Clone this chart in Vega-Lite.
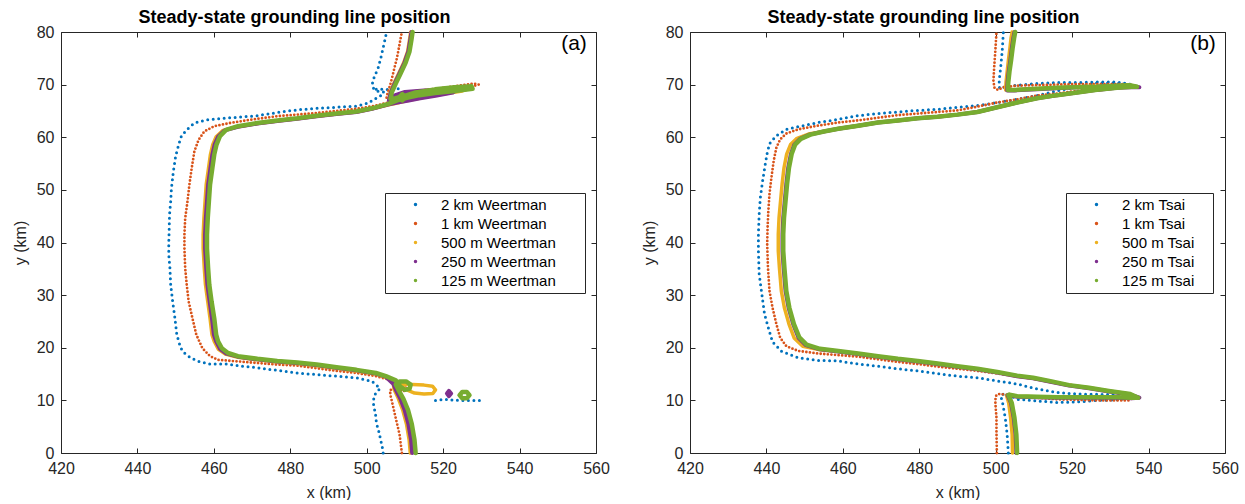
{
"$schema":"https://vega.github.io/schema/vega-lite/v6.json",
"background":"white",
"padding":{"left":12,"top":9,"right":0,"bottom":0},
"spacing":31,
"datasets":{
"a":[
{"s":"2 km","x":504.3,"y":0},{"s":"2 km","x":504.1,"y":1},{"s":"2 km","x":503.8,"y":2},{"s":"2 km","x":503.5,"y":3},{"s":"2 km","x":503.2,"y":4},{"s":"2 km","x":502.8,"y":5},{"s":"2 km","x":502.5,"y":6},{"s":"2 km","x":502.3,"y":7.4},{"s":"2 km","x":501.8,"y":9.1},{"s":"2 km","x":501.8,"y":10.1},{"s":"2 km","x":502,"y":11},{"s":"2 km","x":503.5,"y":12.3},{"s":"2 km","x":501.4,"y":13.6},{"s":"2 km","x":497.3,"y":14.3},{"s":"2 km","x":492.1,"y":14.6},{"s":"2 km","x":486.9,"y":14.9},{"s":"2 km","x":481.8,"y":15.2},{"s":"2 km","x":476.6,"y":15.7},{"s":"2 km","x":471.4,"y":16.2},{"s":"2 km","x":467.3,"y":16.5},{"s":"2 km","x":463.2,"y":16.9},{"s":"2 km","x":459,"y":16.9},{"s":"2 km","x":456,"y":17.4},{"s":"2 km","x":453.9,"y":18.1},{"s":"2 km","x":452.3,"y":19},{"s":"2 km","x":451.3,"y":20},{"s":"2 km","x":450.3,"y":22.5},{"s":"2 km","x":449.8,"y":25.7},{"s":"2 km","x":449.2,"y":28.9},{"s":"2 km","x":448.7,"y":32},{"s":"2 km","x":448.5,"y":35.2},{"s":"2 km","x":448.2,"y":37.7},{"s":"2 km","x":448.2,"y":40},{"s":"2 km","x":448.3,"y":42.2},{"s":"2 km","x":448.4,"y":45.3},{"s":"2 km","x":448.7,"y":47.8},{"s":"2 km","x":448.9,"y":50.3},{"s":"2 km","x":449.4,"y":53.5},{"s":"2 km","x":450,"y":56.4},{"s":"2 km","x":450.8,"y":58.6},{"s":"2 km","x":451.5,"y":60.2},{"s":"2 km","x":452.9,"y":61.4},{"s":"2 km","x":454.9,"y":62.7},{"s":"2 km","x":458,"y":63.3},{"s":"2 km","x":462.1,"y":63.6},{"s":"2 km","x":466.3,"y":63.8},{"s":"2 km","x":471.4,"y":64.1},{"s":"2 km","x":476.6,"y":64.7},{"s":"2 km","x":481.8,"y":65.2},{"s":"2 km","x":486.9,"y":65.5},{"s":"2 km","x":492.1,"y":65.7},{"s":"2 km","x":497.3,"y":65.9},{"s":"2 km","x":500.4,"y":66.5},{"s":"2 km","x":501.9,"y":67.2},{"s":"2 km","x":503.5,"y":67.8},{"s":"2 km","x":504.5,"y":68.6},{"s":"2 km","x":503,"y":68.7},{"s":"2 km","x":501.8,"y":69.3},{"s":"2 km","x":501.4,"y":70},{"s":"2 km","x":501.9,"y":71.3},{"s":"2 km","x":503,"y":73.2},{"s":"2 km","x":503.7,"y":75.1},{"s":"2 km","x":504.3,"y":77},{"s":"2 km","x":504.7,"y":78.3},{"s":"2 km","x":505.2,"y":80},
{"s":"2 km","g":1,"x":502.5,"y":69.1},{"s":"2 km","g":1,"x":504.5,"y":69.1},{"s":"2 km","g":1,"x":506.5,"y":69},{"s":"2 km","g":1,"x":508.3,"y":69.2},
{"s":"2 km","g":2,"x":518,"y":10},{"s":"2 km","g":2,"x":520,"y":10.2},{"s":"2 km","g":2,"x":522,"y":10.1},{"s":"2 km","g":2,"x":524,"y":10},{"s":"2 km","g":2,"x":526,"y":10},{"s":"2 km","g":2,"x":528,"y":10},{"s":"2 km","g":2,"x":530,"y":10},
{"s":"1 km","x":509.2,"y":0},{"s":"1 km","x":508.6,"y":3.5},{"s":"1 km","x":507.6,"y":6.6},{"s":"1 km","x":506.6,"y":9.8},{"s":"1 km","x":506.2,"y":11},{"s":"1 km","x":506.1,"y":11.9},{"s":"1 km","x":507,"y":12.3},{"s":"1 km","x":508.6,"y":12},{"s":"1 km","x":509.7,"y":11.7},{"s":"1 km","x":510.2,"y":12.4},{"s":"1 km","x":509,"y":13.2},{"s":"1 km","x":507.6,"y":13.6},{"s":"1 km","x":505,"y":14.1},{"s":"1 km","x":502.4,"y":14.6},{"s":"1 km","x":497.3,"y":15.2},{"s":"1 km","x":492.1,"y":15.6},{"s":"1 km","x":486.9,"y":16.1},{"s":"1 km","x":481.8,"y":16.6},{"s":"1 km","x":476.6,"y":16.8},{"s":"1 km","x":471.4,"y":17.1},{"s":"1 km","x":466.3,"y":17.4},{"s":"1 km","x":461.1,"y":17.7},{"s":"1 km","x":459,"y":18.4},{"s":"1 km","x":457,"y":19.9},{"s":"1 km","x":455.4,"y":22.5},{"s":"1 km","x":454.4,"y":25.6},{"s":"1 km","x":453.4,"y":28.8},{"s":"1 km","x":452.9,"y":32},{"s":"1 km","x":452.5,"y":35.1},{"s":"1 km","x":452.3,"y":38.9},{"s":"1 km","x":452.3,"y":41.5},{"s":"1 km","x":452.5,"y":44.6},{"s":"1 km","x":453.1,"y":47.8},{"s":"1 km","x":453.6,"y":51},{"s":"1 km","x":454.2,"y":54.1},{"s":"1 km","x":454.9,"y":57.3},{"s":"1 km","x":456,"y":59.5},{"s":"1 km","x":457.5,"y":61.1},{"s":"1 km","x":460.1,"y":62.1},{"s":"1 km","x":464.2,"y":62.7},{"s":"1 km","x":469.4,"y":63.3},{"s":"1 km","x":476.6,"y":64},{"s":"1 km","x":481.8,"y":64.3},{"s":"1 km","x":486.9,"y":64.6},{"s":"1 km","x":492.1,"y":65},{"s":"1 km","x":497.3,"y":65.4},{"s":"1 km","x":502.4,"y":66},{"s":"1 km","x":506.6,"y":66.8},{"s":"1 km","x":512.8,"y":67.8},{"s":"1 km","x":517.9,"y":68.4},{"s":"1 km","x":523.1,"y":69},{"s":"1 km","x":527.7,"y":69.7},{"s":"1 km","x":529.3,"y":70},{"s":"1 km","x":528,"y":70.2},{"s":"1 km","x":524,"y":69.8},{"s":"1 km","x":519,"y":69.3},{"s":"1 km","x":514,"y":68.8},{"s":"1 km","x":509,"y":68.3},{"s":"1 km","x":506.4,"y":67.8},{"s":"1 km","x":505.2,"y":67.5},{"s":"1 km","x":505.5,"y":68.5},{"s":"1 km","x":506.1,"y":69.8},{"s":"1 km","x":506.7,"y":71.5},{"s":"1 km","x":507.3,"y":73.3},{"s":"1 km","x":507.9,"y":75},{"s":"1 km","x":508.4,"y":76.9},{"s":"1 km","x":508.8,"y":78.5},{"s":"1 km","x":509.2,"y":80},
{"s":"500 m","x":511.4,"y":0},{"s":"500 m","x":511.1,"y":2.5},{"s":"500 m","x":510.4,"y":5.5},{"s":"500 m","x":509.4,"y":8.2},{"s":"500 m","x":508.3,"y":10.3},{"s":"500 m","x":507.2,"y":12},{"s":"500 m","x":507,"y":12.9},{"s":"500 m","x":509,"y":13.1},{"s":"500 m","x":512,"y":13},{"s":"500 m","x":515,"y":12.9},{"s":"500 m","x":517.2,"y":12.7},{"s":"500 m","x":518,"y":12},{"s":"500 m","x":517.3,"y":11.3},{"s":"500 m","x":515,"y":11.2},{"s":"500 m","x":512.5,"y":11.4},{"s":"500 m","x":510.5,"y":12},{"s":"500 m","x":508.5,"y":13},{"s":"500 m","x":506.5,"y":14},{"s":"500 m","x":505,"y":14.4},{"s":"500 m","x":502.4,"y":15},{"s":"500 m","x":497.3,"y":15.6},{"s":"500 m","x":492.1,"y":16.1},{"s":"500 m","x":486.9,"y":16.6},{"s":"500 m","x":481.8,"y":17},{"s":"500 m","x":476.6,"y":17.3},{"s":"500 m","x":471.4,"y":17.7},{"s":"500 m","x":466.3,"y":18.2},{"s":"500 m","x":463,"y":18.8},{"s":"500 m","x":461.2,"y":19.7},{"s":"500 m","x":460.1,"y":21.2},{"s":"500 m","x":459.5,"y":22.5},{"s":"500 m","x":459,"y":25.6},{"s":"500 m","x":458.4,"y":28.8},{"s":"500 m","x":457.8,"y":32},{"s":"500 m","x":457.5,"y":35.1},{"s":"500 m","x":457.2,"y":38.9},{"s":"500 m","x":457.2,"y":41.5},{"s":"500 m","x":457.4,"y":44.6},{"s":"500 m","x":457.7,"y":47.8},{"s":"500 m","x":458,"y":51},{"s":"500 m","x":458.6,"y":54.1},{"s":"500 m","x":459.1,"y":56.7},{"s":"500 m","x":459.7,"y":58.6},{"s":"500 m","x":460.6,"y":60.1},{"s":"500 m","x":462.4,"y":61.3},{"s":"500 m","x":466.3,"y":62},{"s":"500 m","x":471.4,"y":62.6},{"s":"500 m","x":476.6,"y":63.1},{"s":"500 m","x":481.8,"y":63.5},{"s":"500 m","x":486.9,"y":64},{"s":"500 m","x":492.1,"y":64.4},{"s":"500 m","x":497.3,"y":64.8},{"s":"500 m","x":501.4,"y":65.4},{"s":"500 m","x":505.5,"y":66.1},{"s":"500 m","x":508,"y":66.5},{"s":"500 m","x":511,"y":67},{"s":"500 m","x":515,"y":67.6},{"s":"500 m","x":520,"y":68.2},{"s":"500 m","x":525,"y":68.8},{"s":"500 m","x":527,"y":69.3},{"s":"500 m","x":524,"y":69.4},{"s":"500 m","x":519,"y":69.1},{"s":"500 m","x":514,"y":68.8},{"s":"500 m","x":510,"y":68.4},{"s":"500 m","x":507,"y":67.6},{"s":"500 m","x":505.9,"y":67},{"s":"500 m","x":506.1,"y":68.5},{"s":"500 m","x":507.1,"y":70.2},{"s":"500 m","x":508.3,"y":72},{"s":"500 m","x":509.7,"y":74.2},{"s":"500 m","x":510.7,"y":76.3},{"s":"500 m","x":511.2,"y":78.5},{"s":"500 m","x":511.5,"y":80},
{"s":"250 m","x":511.9,"y":0},{"s":"250 m","x":511.6,"y":2.5},{"s":"250 m","x":510.9,"y":5.5},{"s":"250 m","x":509.9,"y":8.2},{"s":"250 m","x":508.8,"y":10.3},{"s":"250 m","x":507.6,"y":12},{"s":"250 m","x":507,"y":13.1},{"s":"250 m","x":505,"y":14.5},{"s":"250 m","x":502.4,"y":15.1},{"s":"250 m","x":497.3,"y":15.7},{"s":"250 m","x":492.1,"y":16.2},{"s":"250 m","x":486.9,"y":16.7},{"s":"250 m","x":481.8,"y":17.1},{"s":"250 m","x":476.6,"y":17.4},{"s":"250 m","x":471.4,"y":17.8},{"s":"250 m","x":466.3,"y":18.3},{"s":"250 m","x":463.3,"y":18.9},{"s":"250 m","x":461.6,"y":19.8},{"s":"250 m","x":460.6,"y":21.2},{"s":"250 m","x":460,"y":22.5},{"s":"250 m","x":459.5,"y":25.6},{"s":"250 m","x":458.9,"y":28.8},{"s":"250 m","x":458.3,"y":32},{"s":"250 m","x":458,"y":35.1},{"s":"250 m","x":457.7,"y":38.9},{"s":"250 m","x":457.7,"y":41.5},{"s":"250 m","x":457.9,"y":44.6},{"s":"250 m","x":458.2,"y":47.8},{"s":"250 m","x":458.5,"y":51},{"s":"250 m","x":459.1,"y":54.1},{"s":"250 m","x":459.6,"y":56.7},{"s":"250 m","x":460.2,"y":58.6},{"s":"250 m","x":461.1,"y":60.1},{"s":"250 m","x":462.8,"y":61.3},{"s":"250 m","x":466.3,"y":62},{"s":"250 m","x":471.4,"y":62.6},{"s":"250 m","x":476.6,"y":63.1},{"s":"250 m","x":481.8,"y":63.5},{"s":"250 m","x":486.9,"y":64},{"s":"250 m","x":492.1,"y":64.4},{"s":"250 m","x":497.3,"y":64.8},{"s":"250 m","x":501.4,"y":65.4},{"s":"250 m","x":505.5,"y":66.2},{"s":"250 m","x":508,"y":66.6},{"s":"250 m","x":511,"y":67},{"s":"250 m","x":514,"y":67.4},{"s":"250 m","x":518,"y":67.9},{"s":"250 m","x":522.5,"y":68.5},{"s":"250 m","x":523.5,"y":69},{"s":"250 m","x":520,"y":69},{"s":"250 m","x":515,"y":68.9},{"s":"250 m","x":510,"y":68.6},{"s":"250 m","x":507.5,"y":68},{"s":"250 m","x":505.8,"y":67},{"s":"250 m","x":506.3,"y":68.5},{"s":"250 m","x":507.3,"y":70.2},{"s":"250 m","x":508.5,"y":72},{"s":"250 m","x":509.9,"y":74.2},{"s":"250 m","x":510.9,"y":76.3},{"s":"250 m","x":511.4,"y":78.5},{"s":"250 m","x":511.7,"y":80},
{"s":"250 m","g":1,"x":521,"y":11.3},{"s":"250 m","g":1,"x":521.5,"y":11.8},{"s":"250 m","g":1,"x":522.1,"y":11.3},{"s":"250 m","g":1,"x":521.5,"y":10.8},{"s":"250 m","g":1,"x":521,"y":11.3},
{"s":"125 m","x":512.8,"y":0},{"s":"125 m","x":512.5,"y":2.5},{"s":"125 m","x":511.8,"y":5.5},{"s":"125 m","x":510.8,"y":8.2},{"s":"125 m","x":509.6,"y":10.3},{"s":"125 m","x":508.3,"y":12},{"s":"125 m","x":507.6,"y":13},{"s":"125 m","x":508.6,"y":13.6},{"s":"125 m","x":510.3,"y":13.6},{"s":"125 m","x":511.5,"y":13},{"s":"125 m","x":511.2,"y":12.2},{"s":"125 m","x":510,"y":12},{"s":"125 m","x":508.8,"y":12.6},{"s":"125 m","x":507.6,"y":13.8},{"s":"125 m","x":505,"y":14.6},{"s":"125 m","x":502.4,"y":15.2},{"s":"125 m","x":497.3,"y":15.8},{"s":"125 m","x":492.1,"y":16.3},{"s":"125 m","x":486.9,"y":16.8},{"s":"125 m","x":481.8,"y":17.2},{"s":"125 m","x":476.6,"y":17.5},{"s":"125 m","x":471.4,"y":17.9},{"s":"125 m","x":466.3,"y":18.4},{"s":"125 m","x":463.7,"y":19},{"s":"125 m","x":462.1,"y":19.9},{"s":"125 m","x":461.1,"y":21.2},{"s":"125 m","x":460.6,"y":22.5},{"s":"125 m","x":460.1,"y":25.6},{"s":"125 m","x":459.4,"y":28.8},{"s":"125 m","x":458.8,"y":32},{"s":"125 m","x":458.5,"y":35.1},{"s":"125 m","x":458.2,"y":38.9},{"s":"125 m","x":458.2,"y":41.5},{"s":"125 m","x":458.4,"y":44.6},{"s":"125 m","x":458.7,"y":47.8},{"s":"125 m","x":459,"y":51},{"s":"125 m","x":459.6,"y":54.1},{"s":"125 m","x":460.1,"y":56.7},{"s":"125 m","x":460.7,"y":58.6},{"s":"125 m","x":461.6,"y":60.2},{"s":"125 m","x":463.2,"y":61.4},{"s":"125 m","x":466.3,"y":62.1},{"s":"125 m","x":471.4,"y":62.7},{"s":"125 m","x":476.6,"y":63.2},{"s":"125 m","x":481.8,"y":63.6},{"s":"125 m","x":486.9,"y":64.1},{"s":"125 m","x":492.1,"y":64.5},{"s":"125 m","x":497.3,"y":64.9},{"s":"125 m","x":501.4,"y":65.5},{"s":"125 m","x":505.5,"y":66.3},{"s":"125 m","x":508,"y":67},{"s":"125 m","x":510.5,"y":67.5},{"s":"125 m","x":513.8,"y":68},{"s":"125 m","x":517.9,"y":68.4},{"s":"125 m","x":523.1,"y":68.8},{"s":"125 m","x":527.7,"y":69.2},{"s":"125 m","x":527.4,"y":69.7},{"s":"125 m","x":523.1,"y":69.5},{"s":"125 m","x":517.9,"y":69.1},{"s":"125 m","x":512.8,"y":68.5},{"s":"125 m","x":509.7,"y":67.8},{"s":"125 m","x":507.5,"y":67.4},{"s":"125 m","x":506.2,"y":67.3},{"s":"125 m","x":506.6,"y":68.6},{"s":"125 m","x":507.6,"y":70.2},{"s":"125 m","x":508.8,"y":72},{"s":"125 m","x":510.2,"y":74.2},{"s":"125 m","x":511.2,"y":76.3},{"s":"125 m","x":511.7,"y":78.5},{"s":"125 m","x":512,"y":80},
{"s":"125 m","g":1,"x":508.5,"y":67.6},{"s":"125 m","g":1,"x":509.3,"y":68.2},{"s":"125 m","g":1,"x":510.1,"y":67.6},{"s":"125 m","g":1,"x":509.3,"y":67},{"s":"125 m","g":1,"x":508.5,"y":67.6},
{"s":"125 m","g":2,"x":524.3,"y":11},{"s":"125 m","g":2,"x":525,"y":11.6},{"s":"125 m","g":2,"x":526.2,"y":11.6},{"s":"125 m","g":2,"x":526.9,"y":11},{"s":"125 m","g":2,"x":526.2,"y":10.4},{"s":"125 m","g":2,"x":525,"y":10.4},{"s":"125 m","g":2,"x":524.3,"y":11}
],
"b":[
{"s":"2 km","x":503.3,"y":0},{"s":"2 km","x":503,"y":3.5},{"s":"2 km","x":502.5,"y":6.7},{"s":"2 km","x":501.7,"y":9.9},{"s":"2 km","x":501.3,"y":10.8},{"s":"2 km","x":502,"y":11.2},{"s":"2 km","x":503.5,"y":11},{"s":"2 km","x":505.6,"y":10.2},{"s":"2 km","x":510.8,"y":9.9},{"s":"2 km","x":516,"y":9.6},{"s":"2 km","x":521.3,"y":9.7},{"s":"2 km","x":526.5,"y":10},{"s":"2 km","x":531.7,"y":10.1},{"s":"2 km","x":535.5,"y":10.5},{"s":"2 km","x":531,"y":11.1},{"s":"2 km","x":521.3,"y":11.2},{"s":"2 km","x":516,"y":11.5},{"s":"2 km","x":510.8,"y":12.2},{"s":"2 km","x":505.6,"y":13.1},{"s":"2 km","x":500.4,"y":13.7},{"s":"2 km","x":495.2,"y":14.3},{"s":"2 km","x":490,"y":14.6},{"s":"2 km","x":484.8,"y":15.1},{"s":"2 km","x":479.6,"y":15.6},{"s":"2 km","x":474.4,"y":16},{"s":"2 km","x":469.2,"y":16.5},{"s":"2 km","x":464,"y":16.9},{"s":"2 km","x":458.8,"y":17.5},{"s":"2 km","x":453.5,"y":17.6},{"s":"2 km","x":448.3,"y":18.1},{"s":"2 km","x":444,"y":19.3},{"s":"2 km","x":441.6,"y":21.1},{"s":"2 km","x":440.5,"y":23.8},{"s":"2 km","x":439.5,"y":26.4},{"s":"2 km","x":438.8,"y":30.2},{"s":"2 km","x":438.1,"y":34},{"s":"2 km","x":437.9,"y":38.4},{"s":"2 km","x":437.9,"y":41.6},{"s":"2 km","x":438.1,"y":45.4},{"s":"2 km","x":438.4,"y":48.5},{"s":"2 km","x":439,"y":51.7},{"s":"2 km","x":439.7,"y":54.9},{"s":"2 km","x":440.3,"y":57.4},{"s":"2 km","x":441,"y":59},{"s":"2 km","x":442.6,"y":60.3},{"s":"2 km","x":445.2,"y":61.5},{"s":"2 km","x":448.3,"y":62},{"s":"2 km","x":453.5,"y":62.8},{"s":"2 km","x":458.8,"y":63.4},{"s":"2 km","x":464,"y":64.1},{"s":"2 km","x":469.2,"y":64.5},{"s":"2 km","x":474.4,"y":64.8},{"s":"2 km","x":479.6,"y":65.1},{"s":"2 km","x":484.8,"y":65.3},{"s":"2 km","x":490,"y":65.7},{"s":"2 km","x":495.2,"y":66},{"s":"2 km","x":500.4,"y":66.6},{"s":"2 km","x":505.6,"y":67.2},{"s":"2 km","x":510.8,"y":67.9},{"s":"2 km","x":516,"y":68.8},{"s":"2 km","x":521.3,"y":69.6},{"s":"2 km","x":526.5,"y":70.3},{"s":"2 km","x":531.7,"y":70.3},{"s":"2 km","x":535.8,"y":70},{"s":"2 km","x":531.7,"y":70.5},{"s":"2 km","x":526.5,"y":70.5},{"s":"2 km","x":521.3,"y":70.4},{"s":"2 km","x":516,"y":70.4},{"s":"2 km","x":510.8,"y":70.2},{"s":"2 km","x":505.6,"y":69.9},{"s":"2 km","x":502,"y":69.5},{"s":"2 km","x":501,"y":69.3},{"s":"2 km","x":500.9,"y":70.7},{"s":"2 km","x":501.3,"y":73.3},{"s":"2 km","x":501.7,"y":76.4},{"s":"2 km","x":502,"y":80},
{"s":"1 km","x":500.3,"y":0},{"s":"1 km","x":500.2,"y":4},{"s":"1 km","x":500.2,"y":6.7},{"s":"1 km","x":500,"y":8.5},{"s":"1 km","x":499.9,"y":9.8},{"s":"1 km","x":500,"y":10.8},{"s":"1 km","x":500.6,"y":11.2},{"s":"1 km","x":501.6,"y":11.2},{"s":"1 km","x":503,"y":10.9},{"s":"1 km","x":505.6,"y":10.7},{"s":"1 km","x":510.8,"y":10.5},{"s":"1 km","x":516,"y":10.2},{"s":"1 km","x":521.3,"y":10.1},{"s":"1 km","x":526.5,"y":10},{"s":"1 km","x":531.7,"y":10},{"s":"1 km","x":534.8,"y":10},{"s":"1 km","x":535.8,"y":10.4},{"s":"1 km","x":534.5,"y":11},{"s":"1 km","x":531.7,"y":11.5},{"s":"1 km","x":526.5,"y":12.1},{"s":"1 km","x":521.3,"y":12.7},{"s":"1 km","x":516,"y":13.4},{"s":"1 km","x":510.8,"y":14},{"s":"1 km","x":505.6,"y":14.6},{"s":"1 km","x":500.4,"y":15.1},{"s":"1 km","x":495.2,"y":15.6},{"s":"1 km","x":490,"y":16},{"s":"1 km","x":484.8,"y":16.4},{"s":"1 km","x":479.6,"y":16.9},{"s":"1 km","x":474.4,"y":17.3},{"s":"1 km","x":469.2,"y":17.8},{"s":"1 km","x":464,"y":18.3},{"s":"1 km","x":458.8,"y":18.6},{"s":"1 km","x":453.5,"y":18.9},{"s":"1 km","x":448.3,"y":19.4},{"s":"1 km","x":445.2,"y":20.3},{"s":"1 km","x":443.6,"y":21.9},{"s":"1 km","x":442.6,"y":24.5},{"s":"1 km","x":441.6,"y":27.6},{"s":"1 km","x":440.8,"y":30.8},{"s":"1 km","x":440.4,"y":35.2},{"s":"1 km","x":440.2,"y":39.7},{"s":"1 km","x":440.3,"y":42.8},{"s":"1 km","x":440.5,"y":46},{"s":"1 km","x":440.8,"y":49.2},{"s":"1 km","x":441.3,"y":52.3},{"s":"1 km","x":441.9,"y":55.5},{"s":"1 km","x":442.6,"y":58},{"s":"1 km","x":443.6,"y":59.6},{"s":"1 km","x":445.2,"y":60.7},{"s":"1 km","x":448.3,"y":61.5},{"s":"1 km","x":453.5,"y":62.2},{"s":"1 km","x":458.8,"y":62.8},{"s":"1 km","x":464,"y":63.2},{"s":"1 km","x":469.2,"y":63.7},{"s":"1 km","x":474.4,"y":64.2},{"s":"1 km","x":479.6,"y":64.5},{"s":"1 km","x":484.8,"y":64.8},{"s":"1 km","x":490,"y":65.1},{"s":"1 km","x":495.2,"y":65.8},{"s":"1 km","x":500.4,"y":66.6},{"s":"1 km","x":505.6,"y":67.2},{"s":"1 km","x":510.8,"y":67.9},{"s":"1 km","x":516,"y":68.3},{"s":"1 km","x":521.3,"y":68.8},{"s":"1 km","x":526.5,"y":69.2},{"s":"1 km","x":531.7,"y":69.6},{"s":"1 km","x":535.8,"y":69.9},{"s":"1 km","x":533,"y":70.1},{"s":"1 km","x":526.5,"y":70.1},{"s":"1 km","x":521.3,"y":70.1},{"s":"1 km","x":516,"y":70},{"s":"1 km","x":510.8,"y":69.9},{"s":"1 km","x":505.6,"y":69.8},{"s":"1 km","x":502,"y":69.5},{"s":"1 km","x":500.6,"y":69},{"s":"1 km","x":499.7,"y":69.3},{"s":"1 km","x":499.4,"y":70.7},{"s":"1 km","x":499.6,"y":73.3},{"s":"1 km","x":499.9,"y":76.4},{"s":"1 km","x":500.2,"y":80},
{"s":"500 m","x":504.4,"y":0},{"s":"500 m","x":504.3,"y":3.5},{"s":"500 m","x":503.9,"y":6.7},{"s":"500 m","x":503.4,"y":9.5},{"s":"500 m","x":502.8,"y":11},{"s":"500 m","x":503.4,"y":11.1},{"s":"500 m","x":505.6,"y":10.8},{"s":"500 m","x":510.8,"y":10.7},{"s":"500 m","x":516,"y":10.6},{"s":"500 m","x":521.3,"y":10.6},{"s":"500 m","x":526.5,"y":10.6},{"s":"500 m","x":531.7,"y":10.6},{"s":"500 m","x":535.5,"y":10.5},{"s":"500 m","x":536.8,"y":10.5},{"s":"500 m","x":535,"y":11.2},{"s":"500 m","x":529.6,"y":11.8},{"s":"500 m","x":524.4,"y":12.4},{"s":"500 m","x":519.2,"y":12.9},{"s":"500 m","x":514,"y":13.6},{"s":"500 m","x":509.8,"y":14.2},{"s":"500 m","x":505.6,"y":14.6},{"s":"500 m","x":500.4,"y":15.3},{"s":"500 m","x":495.2,"y":15.9},{"s":"500 m","x":490,"y":16.4},{"s":"500 m","x":484.8,"y":16.9},{"s":"500 m","x":479.6,"y":17.4},{"s":"500 m","x":474.4,"y":17.8},{"s":"500 m","x":469.2,"y":18.3},{"s":"500 m","x":464,"y":18.8},{"s":"500 m","x":458.8,"y":19.3},{"s":"500 m","x":454,"y":19.6},{"s":"500 m","x":449.5,"y":20.3},{"s":"500 m","x":447.3,"y":21.8},{"s":"500 m","x":445.9,"y":24.5},{"s":"500 m","x":444.7,"y":27.6},{"s":"500 m","x":443.9,"y":30.8},{"s":"500 m","x":443.4,"y":35.2},{"s":"500 m","x":443.1,"y":38.4},{"s":"500 m","x":443.1,"y":41.6},{"s":"500 m","x":443.3,"y":44.7},{"s":"500 m","x":443.7,"y":47.9},{"s":"500 m","x":444.1,"y":51.1},{"s":"500 m","x":444.6,"y":54.2},{"s":"500 m","x":445.3,"y":56.8},{"s":"500 m","x":446.3,"y":58.6},{"s":"500 m","x":448,"y":59.8},{"s":"500 m","x":451,"y":60.6},{"s":"500 m","x":455,"y":61.1},{"s":"500 m","x":458.8,"y":61.6},{"s":"500 m","x":464,"y":62.2},{"s":"500 m","x":469.2,"y":62.8},{"s":"500 m","x":474.4,"y":63.2},{"s":"500 m","x":479.6,"y":63.6},{"s":"500 m","x":484.8,"y":63.9},{"s":"500 m","x":490,"y":64.3},{"s":"500 m","x":495.2,"y":64.8},{"s":"500 m","x":500.4,"y":65.7},{"s":"500 m","x":505.6,"y":66.6},{"s":"500 m","x":510.8,"y":67.4},{"s":"500 m","x":516,"y":68},{"s":"500 m","x":521.3,"y":68.5},{"s":"500 m","x":526.5,"y":69},{"s":"500 m","x":531.7,"y":69.4},{"s":"500 m","x":535.5,"y":69.6},{"s":"500 m","x":536.5,"y":69.7},{"s":"500 m","x":535,"y":69.9},{"s":"500 m","x":531.7,"y":69.8},{"s":"500 m","x":526.5,"y":69.7},{"s":"500 m","x":521.3,"y":69.6},{"s":"500 m","x":516,"y":69.4},{"s":"500 m","x":510.8,"y":69.2},{"s":"500 m","x":505,"y":69},{"s":"500 m","x":502.6,"y":69},{"s":"500 m","x":502.7,"y":70.5},{"s":"500 m","x":503,"y":72.5},{"s":"500 m","x":503.3,"y":74.5},{"s":"500 m","x":503.7,"y":76.8},{"s":"500 m","x":504,"y":78.8},{"s":"500 m","x":504.3,"y":80},
{"s":"250 m","x":505.4,"y":0},{"s":"250 m","x":505.2,"y":3.5},{"s":"250 m","x":504.7,"y":6.7},{"s":"250 m","x":504,"y":9.5},{"s":"250 m","x":503.1,"y":11},{"s":"250 m","x":503.5,"y":11},{"s":"250 m","x":505.6,"y":10.7},{"s":"250 m","x":510.8,"y":10.6},{"s":"250 m","x":516,"y":10.5},{"s":"250 m","x":521.3,"y":10.5},{"s":"250 m","x":526.5,"y":10.5},{"s":"250 m","x":531.7,"y":10.5},{"s":"250 m","x":535.5,"y":10.4},{"s":"250 m","x":537.6,"y":10.5},{"s":"250 m","x":535.2,"y":11.1},{"s":"250 m","x":529.6,"y":11.7},{"s":"250 m","x":524.4,"y":12.3},{"s":"250 m","x":519.2,"y":12.8},{"s":"250 m","x":514,"y":13.6},{"s":"250 m","x":509.8,"y":14.2},{"s":"250 m","x":505.6,"y":14.6},{"s":"250 m","x":500.4,"y":15.3},{"s":"250 m","x":495.2,"y":15.9},{"s":"250 m","x":490,"y":16.4},{"s":"250 m","x":484.8,"y":16.9},{"s":"250 m","x":479.6,"y":17.4},{"s":"250 m","x":474.4,"y":17.8},{"s":"250 m","x":469.2,"y":18.3},{"s":"250 m","x":464,"y":18.8},{"s":"250 m","x":458.8,"y":19.3},{"s":"250 m","x":454,"y":19.7},{"s":"250 m","x":450.3,"y":20.5},{"s":"250 m","x":448.4,"y":21.9},{"s":"250 m","x":447,"y":24.5},{"s":"250 m","x":445.8,"y":27.6},{"s":"250 m","x":445,"y":30.8},{"s":"250 m","x":444.5,"y":35.2},{"s":"250 m","x":444.2,"y":38.4},{"s":"250 m","x":444.2,"y":41.6},{"s":"250 m","x":444.4,"y":44.7},{"s":"250 m","x":444.8,"y":47.9},{"s":"250 m","x":445.2,"y":51.1},{"s":"250 m","x":445.7,"y":54.2},{"s":"250 m","x":446.4,"y":56.8},{"s":"250 m","x":447.3,"y":58.6},{"s":"250 m","x":448.8,"y":59.7},{"s":"250 m","x":451.3,"y":60.5},{"s":"250 m","x":455,"y":61.1},{"s":"250 m","x":458.8,"y":61.6},{"s":"250 m","x":464,"y":62.2},{"s":"250 m","x":469.2,"y":62.8},{"s":"250 m","x":474.4,"y":63.2},{"s":"250 m","x":479.6,"y":63.6},{"s":"250 m","x":484.8,"y":63.9},{"s":"250 m","x":490,"y":64.3},{"s":"250 m","x":495.2,"y":64.8},{"s":"250 m","x":500.4,"y":65.7},{"s":"250 m","x":505.6,"y":66.6},{"s":"250 m","x":510.8,"y":67.4},{"s":"250 m","x":516,"y":68},{"s":"250 m","x":521.3,"y":68.5},{"s":"250 m","x":526.5,"y":69},{"s":"250 m","x":531.7,"y":69.4},{"s":"250 m","x":535.5,"y":69.5},{"s":"250 m","x":537.6,"y":69.5},{"s":"250 m","x":535,"y":69.8},{"s":"250 m","x":531.7,"y":69.8},{"s":"250 m","x":526.5,"y":69.6},{"s":"250 m","x":521.3,"y":69.5},{"s":"250 m","x":516,"y":69.3},{"s":"250 m","x":510.8,"y":69.1},{"s":"250 m","x":505,"y":68.9},{"s":"250 m","x":503,"y":68.9},{"s":"250 m","x":503.1,"y":70.5},{"s":"250 m","x":503.4,"y":72.5},{"s":"250 m","x":503.8,"y":74.5},{"s":"250 m","x":504.2,"y":76.8},{"s":"250 m","x":504.6,"y":78.8},{"s":"250 m","x":504.9,"y":80},
{"s":"125 m","x":505.6,"y":0},{"s":"125 m","x":505.4,"y":3.5},{"s":"125 m","x":504.9,"y":6.7},{"s":"125 m","x":504.2,"y":9.5},{"s":"125 m","x":503.3,"y":11},{"s":"125 m","x":503.6,"y":11.1},{"s":"125 m","x":505.6,"y":10.8},{"s":"125 m","x":510.8,"y":10.7},{"s":"125 m","x":516,"y":10.6},{"s":"125 m","x":521.3,"y":10.6},{"s":"125 m","x":526.5,"y":10.6},{"s":"125 m","x":531.7,"y":10.6},{"s":"125 m","x":535.5,"y":10.5},{"s":"125 m","x":537.3,"y":10.5},{"s":"125 m","x":535.2,"y":11.2},{"s":"125 m","x":529.6,"y":11.8},{"s":"125 m","x":524.4,"y":12.4},{"s":"125 m","x":519.2,"y":12.9},{"s":"125 m","x":514,"y":13.7},{"s":"125 m","x":509.8,"y":14.3},{"s":"125 m","x":505.6,"y":14.7},{"s":"125 m","x":500.4,"y":15.4},{"s":"125 m","x":495.2,"y":16},{"s":"125 m","x":490,"y":16.5},{"s":"125 m","x":484.8,"y":17},{"s":"125 m","x":479.6,"y":17.5},{"s":"125 m","x":474.4,"y":17.9},{"s":"125 m","x":469.2,"y":18.4},{"s":"125 m","x":464,"y":18.9},{"s":"125 m","x":458.8,"y":19.4},{"s":"125 m","x":454,"y":19.8},{"s":"125 m","x":450.5,"y":20.6},{"s":"125 m","x":448.6,"y":22},{"s":"125 m","x":447.2,"y":24.5},{"s":"125 m","x":446,"y":27.6},{"s":"125 m","x":445.2,"y":30.8},{"s":"125 m","x":444.7,"y":35.2},{"s":"125 m","x":444.4,"y":38.4},{"s":"125 m","x":444.4,"y":41.6},{"s":"125 m","x":444.6,"y":44.7},{"s":"125 m","x":445,"y":47.9},{"s":"125 m","x":445.4,"y":51.1},{"s":"125 m","x":445.9,"y":54.2},{"s":"125 m","x":446.6,"y":56.8},{"s":"125 m","x":447.5,"y":58.6},{"s":"125 m","x":449,"y":59.7},{"s":"125 m","x":451.5,"y":60.5},{"s":"125 m","x":455,"y":61.1},{"s":"125 m","x":458.8,"y":61.6},{"s":"125 m","x":464,"y":62.2},{"s":"125 m","x":469.2,"y":62.8},{"s":"125 m","x":474.4,"y":63.2},{"s":"125 m","x":479.6,"y":63.6},{"s":"125 m","x":484.8,"y":63.9},{"s":"125 m","x":490,"y":64.3},{"s":"125 m","x":495.2,"y":64.8},{"s":"125 m","x":500.4,"y":65.7},{"s":"125 m","x":505.6,"y":66.6},{"s":"125 m","x":510.8,"y":67.4},{"s":"125 m","x":516,"y":68},{"s":"125 m","x":521.3,"y":68.5},{"s":"125 m","x":526.5,"y":69},{"s":"125 m","x":531.7,"y":69.4},{"s":"125 m","x":535.5,"y":69.6},{"s":"125 m","x":537,"y":69.6},{"s":"125 m","x":535,"y":69.9},{"s":"125 m","x":531.7,"y":69.8},{"s":"125 m","x":526.5,"y":69.6},{"s":"125 m","x":521.3,"y":69.5},{"s":"125 m","x":516,"y":69.4},{"s":"125 m","x":510.8,"y":69.2},{"s":"125 m","x":505,"y":69},{"s":"125 m","x":503.2,"y":69},{"s":"125 m","x":503.3,"y":70.5},{"s":"125 m","x":503.6,"y":72.5},{"s":"125 m","x":504,"y":74.5},{"s":"125 m","x":504.4,"y":76.8},{"s":"125 m","x":504.8,"y":78.8},{"s":"125 m","x":505.1,"y":80}
]
},
"hconcat":[
{
"width":535,"height":421,
"title":{"text":"Steady-state grounding line position","dx":-34,"offset":-3},
"data":{"name":"a"},
"layer":[
{"mark":{"type":"point","filled":true,"size":8,"opacity":0},
"encoding":{
"x":{"field":"x","type":"quantitative","scale":{"domain":[420,560],"nice":false,"zero":false},"axis":{"orient":"bottom","title":"x (km)","values":[420,440,460,480,500,520,540,560]}},
"y":{"field":"y","type":"quantitative","scale":{"domain":[0,80],"nice":false,"zero":false},"axis":{"orient":"left","title":"y (km)","values":[0,10,20,30,40,50,60,70,80]}},
"color":{"field":"s","type":"nominal","scale":{"domain":["2 km","1 km","500 m","250 m","125 m"],"range":["#0072BD","#D95319","#EDB120","#7E2F8E","#77AC30"]},"legend":{"legendX":324,"legendY":161,"labelExpr":"datum.label + ' Weertman'","title":"\u00a0","titleOrient":"right","titlePadding":25,"titleFontSize":4}}}},
{"transform":[{"filter":{"field":"s","equal":"2 km"}}],
"mark":{"type":"line","color":"#0072BD","strokeWidth":3,"strokeDash":[0,5.5],"strokeCap":"round","strokeJoin":"round"},
"encoding":{"x":{"field":"x","type":"quantitative","axis":{"orient":"top","labels":false,"title":null,"values":[420,440,460,480,500,520,540,560]}},"y":{"field":"y","type":"quantitative","axis":{"orient":"right","labels":false,"title":null,"values":[0,10,20,30,40,50,60,70,80]}},"detail":{"field":"g","type":"nominal"},"order":{"value":null}}},
{"transform":[{"filter":{"field":"s","equal":"1 km"}}],
"mark":{"type":"line","color":"#D95319","strokeWidth":2.8,"strokeDash":[0,3.6],"strokeCap":"round","strokeJoin":"round"},
"encoding":{"x":{"field":"x","type":"quantitative","axis":null},"y":{"field":"y","type":"quantitative","axis":null},"detail":{"field":"g","type":"nominal"},"order":{"value":null}}},
{"transform":[{"filter":{"field":"s","equal":"500 m"}}],
"mark":{"type":"line","color":"#EDB120","strokeWidth":3.5,"strokeCap":"round","strokeJoin":"round"},
"encoding":{"x":{"field":"x","type":"quantitative","axis":null},"y":{"field":"y","type":"quantitative","axis":null},"detail":{"field":"g","type":"nominal"},"order":{"value":null}}},
{"transform":[{"filter":{"field":"s","equal":"250 m"}}],
"mark":{"type":"line","color":"#7E2F8E","strokeWidth":4,"strokeCap":"round","strokeJoin":"round"},
"encoding":{"x":{"field":"x","type":"quantitative","axis":null},"y":{"field":"y","type":"quantitative","axis":null},"detail":{"field":"g","type":"nominal"},"order":{"value":null}}},
{"transform":[{"filter":{"field":"s","equal":"125 m"}}],
"mark":{"type":"line","color":"#77AC30","strokeWidth":4.5,"strokeCap":"round","strokeJoin":"round"},
"encoding":{"x":{"field":"x","type":"quantitative","axis":null},"y":{"field":"y","type":"quantitative","axis":null},"detail":{"field":"g","type":"nominal"},"order":{"value":null}}},
{"data":{"values":[{"t":"(a)"}]},
"mark":{"type":"text","align":"right","baseline":"middle","fontSize":21,"color":"#000000"},
"encoding":{"x":{"datum":557.6,"type":"quantitative","axis":null},"y":{"datum":77.8,"type":"quantitative","axis":null},"text":{"field":"t"}}}
],
"resolve":{"axis":{"x":"independent","y":"independent"}}
},
{
"width":535,"height":421,
"title":{"text":"Steady-state grounding line position","dx":-34,"offset":-3},
"data":{"name":"b"},
"layer":[
{"mark":{"type":"point","filled":true,"size":8,"opacity":0},
"encoding":{
"x":{"field":"x","type":"quantitative","scale":{"domain":[420,560],"nice":false,"zero":false},"axis":{"orient":"bottom","title":"x (km)","values":[420,440,460,480,500,520,540,560]}},
"y":{"field":"y","type":"quantitative","scale":{"domain":[0,80],"nice":false,"zero":false},"axis":{"orient":"left","title":"y (km)","values":[0,10,20,30,40,50,60,70,80]}},
"color":{"field":"s","type":"nominal","scale":{"domain":["2 km","1 km","500 m","250 m","125 m"],"range":["#0072BD","#D95319","#EDB120","#7E2F8E","#77AC30"]},"legend":{"legendX":376,"legendY":161,"labelExpr":"datum.label + ' Tsai'","title":"\u00a0","titleOrient":"right","titlePadding":14,"titleFontSize":4}}}},
{"transform":[{"filter":{"field":"s","equal":"2 km"}}],
"mark":{"type":"line","color":"#0072BD","strokeWidth":3,"strokeDash":[0,5.5],"strokeCap":"round","strokeJoin":"round"},
"encoding":{"x":{"field":"x","type":"quantitative","axis":{"orient":"top","labels":false,"title":null,"values":[420,440,460,480,500,520,540,560]}},"y":{"field":"y","type":"quantitative","axis":{"orient":"right","labels":false,"title":null,"values":[0,10,20,30,40,50,60,70,80]}},"detail":{"field":"g","type":"nominal"},"order":{"value":null}}},
{"transform":[{"filter":{"field":"s","equal":"1 km"}}],
"mark":{"type":"line","color":"#D95319","strokeWidth":2.8,"strokeDash":[0,3.6],"strokeCap":"round","strokeJoin":"round"},
"encoding":{"x":{"field":"x","type":"quantitative","axis":null},"y":{"field":"y","type":"quantitative","axis":null},"detail":{"field":"g","type":"nominal"},"order":{"value":null}}},
{"transform":[{"filter":{"field":"s","equal":"500 m"}}],
"mark":{"type":"line","color":"#EDB120","strokeWidth":3.5,"strokeCap":"round","strokeJoin":"round"},
"encoding":{"x":{"field":"x","type":"quantitative","axis":null},"y":{"field":"y","type":"quantitative","axis":null},"detail":{"field":"g","type":"nominal"},"order":{"value":null}}},
{"transform":[{"filter":{"field":"s","equal":"250 m"}}],
"mark":{"type":"line","color":"#7E2F8E","strokeWidth":4,"strokeCap":"round","strokeJoin":"round"},
"encoding":{"x":{"field":"x","type":"quantitative","axis":null},"y":{"field":"y","type":"quantitative","axis":null},"detail":{"field":"g","type":"nominal"},"order":{"value":null}}},
{"transform":[{"filter":{"field":"s","equal":"125 m"}}],
"mark":{"type":"line","color":"#77AC30","strokeWidth":4.5,"strokeCap":"round","strokeJoin":"round"},
"encoding":{"x":{"field":"x","type":"quantitative","axis":null},"y":{"field":"y","type":"quantitative","axis":null},"detail":{"field":"g","type":"nominal"},"order":{"value":null}}},
{"data":{"values":[{"t":"(b)"}]},
"mark":{"type":"text","align":"right","baseline":"middle","fontSize":21,"color":"#000000"},
"encoding":{"x":{"datum":557.6,"type":"quantitative","axis":null},"y":{"datum":77.8,"type":"quantitative","axis":null},"text":{"field":"t"}}}
],
"resolve":{"axis":{"x":"independent","y":"independent"}}
}
],
"resolve":{"scale":{"color":"independent","x":"independent","y":"independent"},"legend":{"color":"independent"}},
"config":{
"font":"Liberation Sans",
"view":{"stroke":null},
"title":{"font":"Liberation Sans","fontSize":18,"fontWeight":"bold","color":"#000000","anchor":"middle"},
"axis":{"grid":false,"domainColor":"#262626","domainWidth":1,"tickColor":"#262626","tickWidth":1,"tickSize":-5,"labelPadding":12,"labelColor":"#262626","labelFontSize":16,"labelFont":"Liberation Sans","titleFont":"Liberation Sans","titleFontSize":16,"titleFontWeight":"normal","titleColor":"#262626","labelFlush":false,"labelOverlap":false,"titlePadding":8},
"legend":{"orient":"none","title":null,"padding":4,"strokeColor":"#262626","fillColor":"#ffffff","symbolType":"circle","symbolSize":12,"symbolOpacity":1,"labelFontSize":15,"labelFont":"Liberation Sans","labelColor":"#000000","rowPadding":3,"symbolOffset":19,"labelOffset":18,"labelLimit":300}
}
}
